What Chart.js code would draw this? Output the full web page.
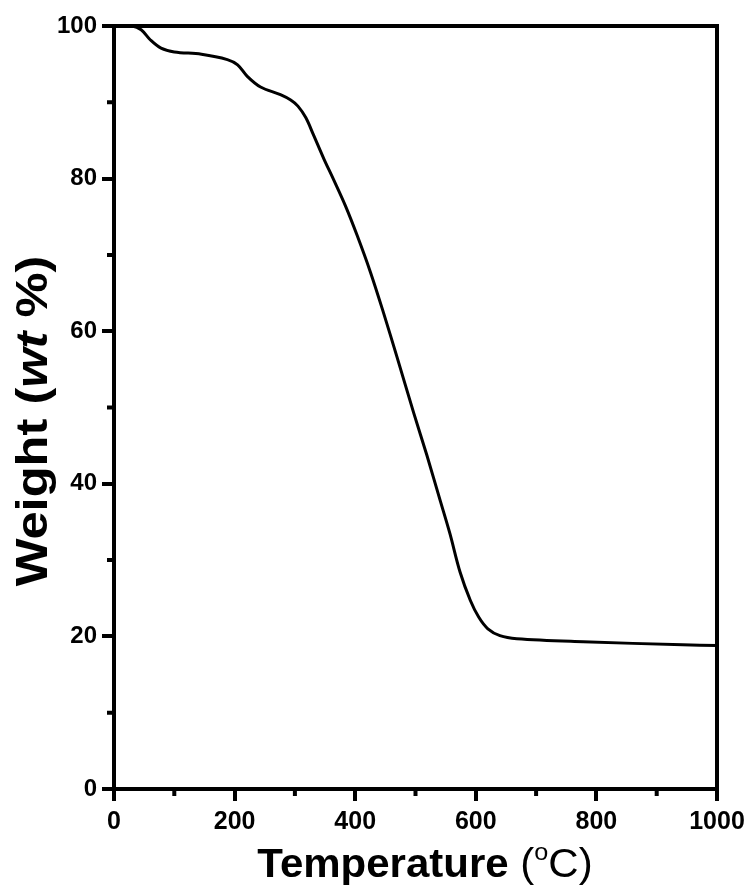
<!DOCTYPE html>
<html>
<head>
<meta charset="utf-8">
<script src="https://cdn.jsdelivr.net/npm/chart.js@4"></script>
<style>
  body { margin: 0; background: #fff; }
  #wrap { width: 752px; height: 893px; }
</style>
</head>
<body>
<div id="wrap"><canvas id="tga" width="752" height="893"></canvas></div>
<script>
// TGA curve
const temps   = [0, 30, 45, 60, 78, 100, 145, 188, 205, 221, 243, 276, 293, 305, 318, 331, 348, 364, 384, 403, 425, 447, 469, 497, 519, 541, 557, 574, 591, 605, 620, 640, 668, 778, 943, 1000];
const weights = [100, 100, 99.5, 98.2, 97.1, 96.6, 96.3, 95.6, 94.9, 93.4, 92.0, 91.0, 90.3, 89.5, 88.0, 85.7, 82.6, 79.9, 76.4, 72.6, 67.8, 62.4, 56.7, 49.3, 43.7, 37.8, 33.5, 28.4, 24.7, 22.5, 21.0, 20.1, 19.7, 19.3, 18.9, 18.8];

const xTicks = [0, 200, 400, 600, 800, 1000];
const yTicks = [0, 20, 40, 60, 80, 100];
const xMinor = [100, 300, 500, 700, 900];
const yMinor = [10, 30, 50, 70, 90];

const points = temps.map((t, i) => ({ x: t, y: weights[i] }));

// draws runs of text in different fonts one after another, stretched a bit along the line
function drawRuns(ctx, parts, cx, y, stretch) {
  let total = 0;
  parts.forEach(p => { ctx.font = p[1]; total += ctx.measureText(p[0]).width; });
  ctx.save();
  ctx.translate(cx, y);
  ctx.scale(stretch, 1);
  let x = -total / 2;
  parts.forEach(p => {
    ctx.font = p[1];
    ctx.fillText(p[0], x, p[2] || 0);
    x += ctx.measureText(p[0]).width;
  });
  ctx.restore();
}

// frame, minor ticks and the two axis titles
const framePlugin = {
  id: "frame",
  afterDraw(chart) {
    const ctx = chart.ctx;
    const a = chart.chartArea;
    const xs = chart.scales.x, ys = chart.scales.y;
    ctx.save();
    ctx.strokeStyle = "#000";
    ctx.lineWidth = 4;
    ctx.beginPath();
    ctx.moveTo(a.left - 2, a.top); ctx.lineTo(a.right + 2, a.top);
    ctx.moveTo(a.right, a.top); ctx.lineTo(a.right, a.bottom + 2);
    ctx.stroke();

    ctx.beginPath();
    xMinor.forEach(v => {
      const px = xs.getPixelForValue(v);
      ctx.moveTo(px, a.bottom); ctx.lineTo(px, a.bottom + 7);
    });
    yMinor.forEach(v => {
      const py = ys.getPixelForValue(v);
      ctx.moveTo(a.left, py); ctx.lineTo(a.left - 7, py);
    });
    ctx.stroke();

    ctx.fillStyle = "#000";
    ctx.textAlign = "left";
    ctx.textBaseline = "alphabetic";

    const fam = "'Liberation Sans', Arial, sans-serif";
    drawRuns(ctx, [
      ["Temperature ", "bold 40px " + fam],
      ["(", "40px " + fam],
      ["o", "24px " + fam, -17],
      ["C)", "40px " + fam],
    ], 425, 877, 1.05);

    ctx.save();
    ctx.translate(47, 421);
    ctx.rotate(-Math.PI / 2);
    drawRuns(ctx, [
      ["Weight (", "bold 44px " + fam],
      ["wt", "italic bold 44px " + fam],
      [" %)", "bold 44px " + fam],
    ], 0, 0, 1.15);
    ctx.restore();
    ctx.restore();
  }
};

const tickFont = (size) => ({ family: "'Liberation Sans', Arial, sans-serif", size: size, weight: "bold" });

new Chart(document.getElementById("tga"), {
  type: "scatter",
  data: {
    datasets: [{
      data: points,
      showLine: true,
      borderColor: "#000",
      borderWidth: 3,
      pointRadius: 0,
      tension: 0.35,
    }],
  },
  options: {
    responsive: false,
    animation: false,
    layout: { padding: { top: 26, right: 35, left: 0, bottom: 0 } },
    plugins: { legend: { display: false }, tooltip: { enabled: false } },
    scales: {
      x: {
        type: "linear",
        min: 0,
        max: 1000,
        afterBuildTicks: s => { s.ticks = xTicks.map(v => ({ value: v })); },
        afterFit: s => { s.height = 104; },
        ticks: {
          color: "#000",
          padding: 6,
          maxRotation: 0,
          font: tickFont(25),
          callback: v => String(v),
        },
        grid: { drawOnChartArea: false, tickLength: 12, lineWidth: 4, color: "#000" },
        border: { display: true, width: 4, color: "#000" },
      },
      y: {
        type: "linear",
        min: 0,
        max: 100,
        afterBuildTicks: s => { s.ticks = yTicks.map(v => ({ value: v })); },
        afterFit: s => { s.width = 114; },
        ticks: {
          color: "#000",
          padding: 5,
          font: tickFont(24),
          callback: v => String(v),
        },
        grid: { drawOnChartArea: false, tickLength: 12, lineWidth: 4, color: "#000" },
        border: { display: true, width: 4, color: "#000" },
      },
    },
  },
  plugins: [framePlugin],
});
</script>
</body>
</html>
